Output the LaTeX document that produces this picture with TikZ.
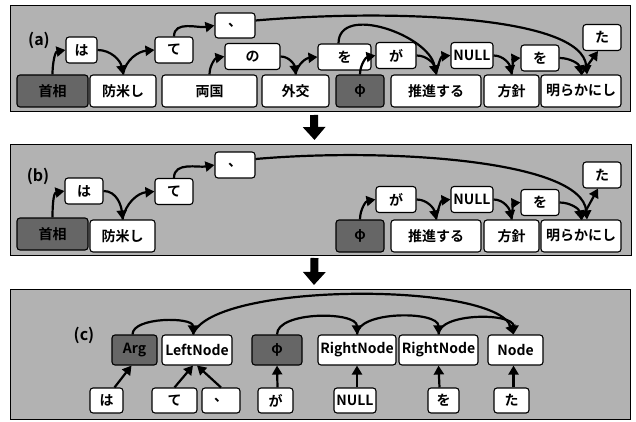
\documentclass[tikz,border=0pt]{standalone}
\usepackage{fontspec}
\setmainfont{Noto Sans CJK JP Bold}
\usetikzlibrary{arrows.meta}
\tikzset{>={Triangle[length=9pt,width=10pt]}}
\tikzset{font=\fontsize{14}{16}\selectfont}

\begin{document}
\begin{tikzpicture}[x=1pt, y=1pt,
    panel/.style={draw, line width=0.8pt, fill=black!30, inner sep=0pt, outer sep=0pt},
    word/.style={draw, line width=1.1pt, rounded corners=3pt, fill=white, text=black, inner sep=0pt, minimum height=32},
    tag/.style={word, minimum height=26},
    hole/.style={word, fill=black!60},
    dep/.style={->, line width=2.2pt},
    bigarrow/.style={-{Triangle[length=13pt,width=22pt]}, line width=8pt},
    lbl/.style={inner sep=0pt, text=black, font=\fontsize{16}{18}\selectfont}]
  \useasboundingbox (0,0) rectangle (636,421);
  % the three panels
  \node[panel, minimum width=620, minimum height=106] (panelA) at (320,363) {};
  \node[panel, minimum width=621, minimum height=111] (panelB) at (320.5,221.5) {};
  \node[panel, minimum width=620, minimum height=130] (panelC) at (320,67) {};
  \draw[bigarrow] ([xshift=-6,yshift=-4]panelA.south) -- ([xshift=-6,yshift=4]panelB.north);
  \draw[bigarrow] ([xshift=-6,yshift=-3]panelB.south) -- ([xshift=-6,yshift=4]panelC.north);

  % (a)
  \node[lbl] (labA) at (39,381) {(a)};
  \node[hole, minimum width=71] (aShusho) at (52.5,330) {首相};
  \node[word, minimum width=66] (aBou) at (123,330) {防米し};
  \node[word, minimum width=95] (aRyo) at (209.5,330) {両国};
  \node[word, minimum width=67] (aGai) at (295.5,330) {外交};
  \node[hole, minimum width=48] (aPhi) at (360,330) {φ};
  \node[word, minimum width=90] (aSui) at (436,330) {推進する};
  \node[word, minimum width=55] (aHou) at (511.5,330) {方針};
  \node[word, minimum width=80] (aAki) at (581,330) {明らかにし};
  \node[tag, minimum width=31] (aHa) at (81.5,371) {は};
  \node[tag, minimum width=38] (aTe) at (174,371) {て};
  \node[tag, minimum width=40, minimum height=25] (aTen) at (235,395.5) {、};
  \node[tag, minimum width=55] (aNo) at (252.5,364.5) {の};
  \node[tag, minimum width=53] (aWo) at (344.5,364) {を};
  \node[tag, minimum width=40] (aGa) at (396,365.5) {が};
  \node[tag, minimum width=42] (aNull) at (472,365.5) {NULL};
  \node[tag, minimum width=38] (aWo2) at (540,363) {を};
  \node[tag, minimum width=38] (aTa) at (602,383.5) {た};
  \draw[dep] (aShusho.north) to[out=90,in=190] (aHa.west);
  \draw[dep] (aHa.east) to[out=0,in=100] (aBou.north);
  \draw[dep] (aBou.north) to[out=80,in=185] (aTe.west);
  \draw[dep] (aTe.north) to[out=90,in=190] (aTen.west);
  \draw[dep] ([yshift=5]aTen.east) to[out=5,in=95,out distance=130,in distance=60] ([xshift=6]aAki.north);
  \draw[dep] (aRyo.north) to[out=90,in=190] (aNo.west);
  \draw[dep] (aNo.east) to[out=0,in=95] (aGai.north);
  \draw[dep] (aGai.north) to[out=80,in=185] (aWo.west);
  \draw[dep] ([xshift=-6]aWo.north) to[out=90,in=100] (aSui.north);
  \draw[dep] (aPhi.north) to[out=90,in=190] (aGa.west);
  \draw[dep] (aGa.east) to[out=0,in=100] (aSui.north);
  \draw[dep] (aSui.north) to[out=80,in=185] (aNull.west);
  \draw[dep] (aNull.east) to[out=0,in=100] (aHou.north);
  \draw[dep] (aHou.north) to[out=80,in=185] (aWo2.west);
  \draw[dep] (aWo2.east) to[out=0,in=100] (aAki.north);
  \draw[dep] (aAki.north) -- ([xshift=-4]aTa.south);

  % (b)
  \node[lbl] (labB) at (38,245) {(b)};
  \node[hole, minimum width=71] (bShusho) at (52.5,187) {首相};
  \node[word, minimum width=65] (bBou) at (122.5,185) {防米し};
  \node[hole, minimum width=48] (bPhi) at (360,185) {φ};
  \node[word, minimum width=90] (bSui) at (436,185) {推進する};
  \node[word, minimum width=55] (bHou) at (511.5,185) {方針};
  \node[word, minimum width=80] (bAki) at (581,185) {明らかにし};
  \node[tag, minimum width=38] (bHa) at (84,230) {は};
  \node[tag, minimum width=38] (bTe) at (174,229.5) {て};
  \node[tag, minimum width=40] (bTen) at (235,256) {、};
  \node[tag, minimum width=40] (bGa) at (396,221.5) {が};
  \node[tag, minimum width=42] (bNull) at (472,221.5) {NULL};
  \node[tag, minimum width=38] (bWo) at (540,218.5) {を};
  \node[tag, minimum width=38] (bTa) at (602,246) {た};
  \draw[dep] (bShusho.north) to[out=90,in=190] (bHa.west);
  \draw[dep] (bHa.east) to[out=0,in=95] (bBou.north);
  \draw[dep] (bBou.north) to[out=80,in=185] (bTe.west);
  \draw[dep] (bTe.north) to[out=90,in=190] (bTen.west);
  \draw[dep] ([yshift=6]bTen.east) to[out=5,in=95,out distance=130,in distance=60] ([xshift=6]bAki.north);
  \draw[dep] (bPhi.north) to[out=90,in=190] (bGa.west);
  \draw[dep] (bGa.east) to[out=0,in=100] (bSui.north);
  \draw[dep] (bSui.north) to[out=80,in=185] (bNull.west);
  \draw[dep] (bNull.east) to[out=0,in=100] (bHou.north);
  \draw[dep] (bHou.north) to[out=80,in=185] (bWo.west);
  \draw[dep] (bWo.east) to[out=0,in=100] (bAki.north);
  \draw[dep] (bAki.north) -- ([xshift=-4]bTa.south);

  % (c)
  \node[lbl] (labC) at (84,86) {(c)};
  \node[hole, minimum width=45, minimum height=30] (cArg) at (134.5,71) {Arg};
  \node[word, minimum width=70, minimum height=30] (cLeft) at (197,71) {LeftNode};
  \node[hole, minimum width=50, minimum height=30] (cPhi) at (277,71) {φ};
  \node[word, minimum width=78, minimum height=30] (cR1) at (357,71) {RightNode};
  \node[word, minimum width=79, minimum height=30] (cR2) at (438.5,71) {RightNode};
  \node[word, minimum width=55, minimum height=30] (cNode) at (515.5,71) {Node};
  \node[tag, minimum width=33, minimum height=25] (cHa) at (106.5,20.5) {は};
  \node[tag, minimum width=45, minimum height=25] (cTe) at (174.5,20.5) {て};
  \node[tag, minimum width=38, minimum height=25] (cTen) at (221,20.5) {、};
  \node[tag, minimum width=35, minimum height=25] (cGa) at (275.5,20.5) {が};
  \node[tag, minimum width=42, minimum height=25] (cNull) at (355,20.5) {NULL};
  \node[tag, minimum width=31, minimum height=25] (cWo) at (443.5,20.5) {を};
  \node[tag, minimum width=35, minimum height=25] (cTa) at (511.5,20.5) {た};
  \draw[dep] ([xshift=8]cHa.north) -- ([xshift=-3]cArg.south);
  \draw[dep] (cTe.north) -- ([xshift=-4]cLeft.south);
  \draw[dep] (cTen.north) -- (cLeft.south);
  \draw[dep] ([xshift=2]cGa.north) -- (cPhi.south);
  \draw[dep] ([xshift=2]cNull.north) -- (cR1.south);
  \draw[dep] ([xshift=-4]cWo.north) -- (cR2.south);
  \draw[dep] ([xshift=2]cTa.north) -- ([xshift=-2]cNode.south);
  \draw[dep] ([xshift=-2]cArg.north) to[out=90,in=90,looseness=0.75] ([xshift=-4]cLeft.north);
  \draw[dep] ([xshift=-4]cLeft.north) to[out=70,in=110,looseness=0.45] ([xshift=-2]cNode.north);
  \draw[dep] (cPhi.north) to[out=90,in=90,looseness=0.75] (cR1.north);
  \draw[dep] (cR1.north) to[out=90,in=90,looseness=0.75] (cR2.north);
  \draw[dep] (cR2.north) to[out=90,in=90,looseness=0.75] ([xshift=-2]cNode.north);
\end{tikzpicture}
\end{document}
